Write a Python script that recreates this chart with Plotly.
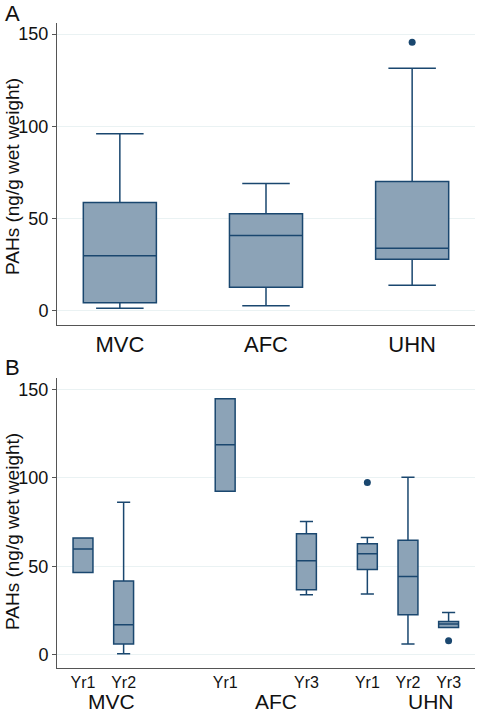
import plotly.graph_objects as go

# ---------------- Data ----------------
# Panel A: by site
sites = ["MVC", "AFC", "UHN"]
a_pos = [0, 1, 2]
a_low = [1.3, 2.7, 13.8]
a_q1 = [4.3, 12.7, 27.9]
a_med = [29.7, 40.7, 33.8]
a_q3 = [58.6, 52.5, 70.0]
a_high = [95.9, 68.9, 131.5]
a_out_site = ["UHN"]
a_out_val = [145.6]

# Panel B: by site and year
b_labels = ["Yr1", "Yr2", "Yr1", "Yr3", "Yr1", "Yr2", "Yr3"]
b_site = ["MVC", "MVC", "AFC", "AFC", "UHN", "UHN", "UHN"]
b_pos = [0, 1, 3.5, 5.5, 7, 8, 9]
b_low = [46.5, 0.6, 92.4, 33.9, 34.3, 6.0, 15.4]
b_q1 = [46.5, 6.0, 92.4, 36.7, 48.2, 22.6, 15.4]
b_med = [59.7, 16.9, 118.6, 53.1, 57.0, 44.2, 17.3]
b_q3 = [65.9, 41.6, 144.7, 68.3, 62.7, 64.7, 18.8]
b_high = [65.9, 86.2, 144.7, 75.3, 66.3, 100.3, 23.9]
b_out_pos = [7, 9]
b_out_val = [97.3, 7.9]
b_group_names = ["MVC", "AFC", "UHN"]
b_group_pos = [0.70, 4.76, 8.56]

yticks = [0, 50, 100, 150]
ytitle = "PAHs (ng/g wet weight)"

# ---------------- Style ----------------
LINE = "#1A476F"
FILL = "#8CA3B7"
GRID = "#EAF2F3"
AXIS = "#555555"
TXT = "#111111"
FONT = "Liberation Sans, Arial, sans-serif"

fig = go.Figure()

for i in range(len(sites)):
    fig.add_trace(go.Box(
        x=[a_pos[i]], q1=[a_q1[i]], median=[a_med[i]], q3=[a_q3[i]],
        lowerfence=[a_low[i]], upperfence=[a_high[i]],
        width=0.5, whiskerwidth=0.65, boxpoints=False,
        fillcolor=FILL, line=dict(color=LINE, width=1.5),
        xaxis="x", yaxis="y", showlegend=False))

fig.add_trace(go.Scatter(
    x=[a_pos[sites.index(s)] for s in a_out_site], y=a_out_val, mode="markers",
    marker=dict(color=LINE, size=7), xaxis="x", yaxis="y", showlegend=False))

for i in range(len(b_labels)):
    fig.add_trace(go.Box(
        x=[b_pos[i]], q1=[b_q1[i]], median=[b_med[i]], q3=[b_q3[i]],
        lowerfence=[b_low[i]], upperfence=[b_high[i]],
        width=0.49, whiskerwidth=0.66, boxpoints=False,
        fillcolor=FILL, line=dict(color=LINE, width=1.5),
        xaxis="x2", yaxis="y2", showlegend=False))

fig.add_trace(go.Scatter(
    x=b_out_pos, y=b_out_val, mode="markers",
    marker=dict(color=LINE, size=7), xaxis="x2", yaxis="y2", showlegend=False))

W, H = 479, 713
PLOT_L, PLOT_R, PLOT_T, PLOT_B = 57, 475, 23, 668   # window pixels
L = PLOT_L
R = W - PLOT_R
T = PLOT_T
B = H - PLOT_B
ph = PLOT_B - PLOT_T
pw = PLOT_R - PLOT_L

def clamp(v):
    return min(1.0, max(0.0, v))

def dom(top_px, bot_px):
    return [clamp((PLOT_B - bot_px) / ph), clamp((PLOT_B - top_px) / ph)]

def px_x(px):
    return (px - PLOT_L) / pw

def px_y(py):
    return (PLOT_B - py) / ph

yaxis_common = dict(
    tickvals=yticks, ticks="outside", ticklen=4, tickcolor=AXIS,
    showgrid=True, gridcolor=GRID, gridwidth=1, zeroline=False,
    showline=True, linecolor=AXIS, linewidth=1,
    tickfont=dict(family=FONT, size=18, color=TXT))

fig.update_layout(
    width=W, height=H,
    margin=dict(l=L, r=R, t=T, b=B),
    paper_bgcolor="white", plot_bgcolor="white",
    font=dict(family=FONT, color=TXT),
    xaxis=dict(domain=[0, 1], range=[-0.43, 2.43], anchor="y",
               tickvals=a_pos, ticktext=sites, ticks="",
               showline=True, linecolor=AXIS, linewidth=1,
               showgrid=False, zeroline=False,
               tickfont=dict(family=FONT, size=22, color=TXT)),
    yaxis=dict(domain=dom(23, 325), range=[-7.8, 156], anchor="x", **yaxis_common),
    xaxis2=dict(domain=[0, 1], range=[-0.64, 9.65], anchor="y2",
                tickvals=b_pos, ticktext=b_labels, ticks="",
                showline=True, linecolor=AXIS, linewidth=1,
                showgrid=False, zeroline=False,
                tickfont=dict(family=FONT, size=16, color=TXT)),
    yaxis2=dict(domain=dom(378.3, 668), range=[-7.5, 156.2], anchor="x2", **yaxis_common),
)

ann = []
ann.append(dict(text="A", x=px_x(12), y=px_y(14), xref="paper", yref="paper",
                showarrow=False, font=dict(family=FONT, size=22, color=TXT),
                xanchor="center", yanchor="middle"))
ann.append(dict(text="B", x=px_x(12), y=px_y(367), xref="paper", yref="paper",
                showarrow=False, font=dict(family=FONT, size=22, color=TXT),
                xanchor="center", yanchor="middle"))
ann.append(dict(text=ytitle, x=px_x(12), y=px_y(177), xref="paper", yref="paper",
                textangle=-90, showarrow=False,
                font=dict(family=FONT, size=19, color=TXT),
                xanchor="center", yanchor="middle"))
ann.append(dict(text=ytitle, x=px_x(12), y=px_y(532), xref="paper", yref="paper",
                textangle=-90, showarrow=False,
                font=dict(family=FONT, size=19, color=TXT),
                xanchor="center", yanchor="middle"))
for name, pos in zip(b_group_names, b_group_pos):
    ann.append(dict(text=name, x=pos, y=px_y(701), xref="x2", yref="paper",
                    showarrow=False, font=dict(family=FONT, size=21, color=TXT),
                    xanchor="center", yanchor="middle"))
fig.update_layout(annotations=ann)

fig.write_html("out.html",
               config={"displayModeBar": False},
               post_script="document.body.style.margin='0px';document.body.style.overflow='hidden';")
